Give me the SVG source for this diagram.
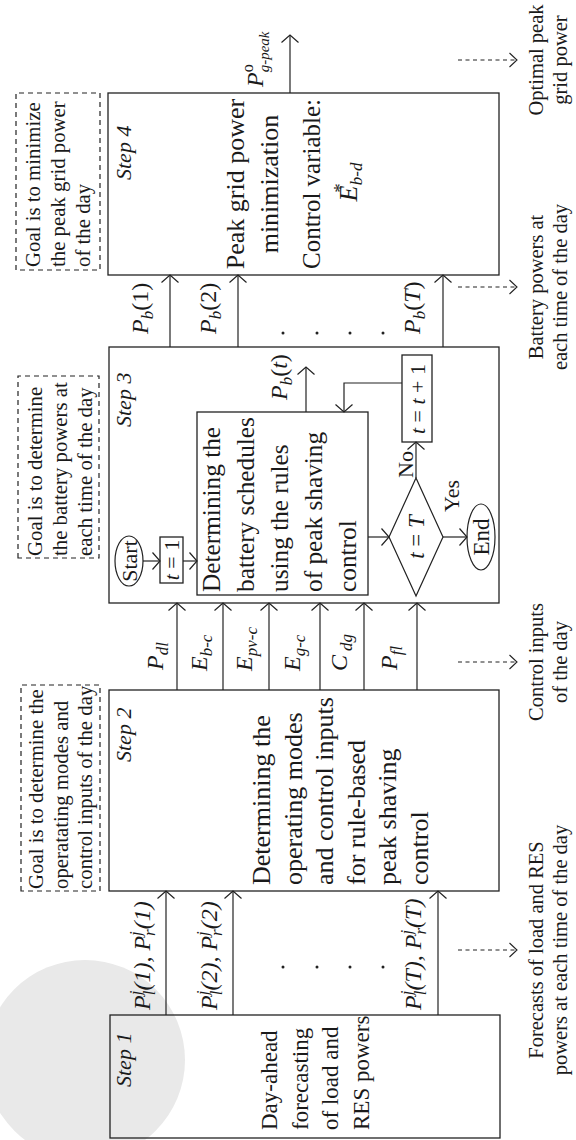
<svg xmlns="http://www.w3.org/2000/svg" width="576" height="1140" viewBox="0 0 576 1140">
<style>
text{font-family:"Liberation Serif","Times New Roman",serif;fill:#1a1a1a}
.i{font-style:italic}
.box{fill:none;stroke:#222;stroke-width:1.3}
.gbox{fill:none;stroke:#222;stroke-width:1.2;stroke-dasharray:5 4}
.c{fill:none;stroke:#222;stroke-width:1.2;marker-end:url(#ah)}
.d{fill:none;stroke:#222;stroke-width:1.1;stroke-dasharray:4 3.5;marker-end:url(#ah2)}
.s{font-size:22px;font-style:italic}
.m{font-size:26px}
.m3{font-size:25.3px}
.m1{font-size:23px}
.g{font-size:20.8px}
.lb{font-size:24px;font-style:italic}
.n{font-size:20.5px}
.sm{font-size:22px}
.sub{font-size:17px}
</style>
<defs>
<marker id="ah" markerUnits="userSpaceOnUse" markerWidth="9" markerHeight="19" viewBox="0 0 9 19" refX="8" refY="9.5" orient="auto"><path d="M0.5,1 L8,9.5 L0.5,18" fill="none" stroke="#222" stroke-width="1.2"/></marker>
<marker id="ah2" markerUnits="userSpaceOnUse" markerWidth="9" markerHeight="16" viewBox="0 0 9 16" refX="8" refY="8" orient="auto"><path d="M0.5,1 L8,8 L0.5,15" fill="none" stroke="#222" stroke-width="1.1"/></marker>
</defs>
<rect width="576" height="1140" fill="#fff"/>
<circle cx="85" cy="1060" r="100" fill="#e9e9e9"/>
<g transform="matrix(0,-1,1,0,0,1140)">

<g id="step1">
<rect class="box" x="2" y="110" width="123" height="390"/>
<text class="s" x="53" y="131">Step 1</text>
<text class="m1" x="10" y="277">Day-ahead</text>
<text class="m1" x="10" y="307.5">forecasting</text>
<text class="m1" x="10" y="338">of load and</text>
<text class="m1" x="10" y="368.5">RES powers</text>
</g>

<g id="goal1">
<rect class="gbox" x="249" y="21" width="206" height="79"/>
<text class="g" x="251" y="43">Goal is to determine the</text>
<text class="g" x="251" y="67.5">operatating modes and</text>
<text class="g" x="251" y="92">control inputs of the day</text>
</g>

<g id="step2">
<rect class="box" x="249" y="109" width="201" height="390"/>
<text class="s" x="378" y="131">Step 2</text>
<text class="m" x="255" y="270">Determining the</text>
<text class="m" x="255" y="301.5">operating modes</text>
<text class="m" x="255" y="333">and control inputs</text>
<text class="m" x="255" y="364.5">for rule-based</text>
<text class="m" x="255" y="396">peak shaving</text>
<text class="m" x="255" y="427.5">control</text>
</g>

<g id="goal2">
<rect class="gbox" x="582" y="18" width="182" height="81"/>
<text class="g" x="584" y="42">Goal is to determine</text>
<text class="g" x="584" y="67">the battery powers at</text>
<text class="g" x="584" y="92">each time of the day</text>
</g>

<g id="step3">
<rect class="box" x="537" y="109" width="256" height="390"/>
<text class="s" x="713" y="131">Step 3</text>
<ellipse cx="579" cy="129" rx="25" ry="14" fill="none" stroke="#222" stroke-width="1.2"/>
<text class="sm" x="579" y="136.5" text-anchor="middle">Start</text>
<rect class="box" x="557" y="160" width="46" height="23" stroke-width="1.1"/>
<text class="sm" x="580" y="178.5" text-anchor="middle"><tspan class="i">t</tspan> = 1</text>
<rect class="box" x="545" y="197" width="183" height="171"/>
<text class="m3" x="548" y="220">Determining the</text>
<text class="m3" x="548" y="254">battery schedules</text>
<text class="m3" x="548" y="288">using the rules</text>
<text class="m3" x="548" y="322">of peak shaving</text>
<text class="m3" x="548" y="356">control</text>
<polygon points="544,416 603,389 662,416 603,443" fill="none" stroke="#222" stroke-width="1.2"/>
<text x="603" y="424" text-anchor="middle" font-size="23"><tspan class="i">t</tspan> = <tspan class="i">T</tspan></text>
<rect class="box" x="698" y="402" width="87" height="30" stroke-width="1.1"/>
<text class="sm" x="741" y="424.5" text-anchor="middle"><tspan class="i">t</tspan> = <tspan class="i">t</tspan> + 1</text>
<ellipse cx="603" cy="481" rx="33" ry="14" fill="none" stroke="#222" stroke-width="1.2"/>
<text x="603" y="489" text-anchor="middle" font-size="23">End</text>
<text class="sm" x="662" y="413">No</text>
<text class="sm" x="628" y="459">Yes</text>
<text class="lb" x="740" y="287">P<tspan class="sub" dy="5">b</tspan><tspan dy="-5" font-style="normal">(</tspan>t<tspan font-style="normal">)</tspan></text>
</g>

<g id="goal3">
<rect class="gbox" x="870" y="16" width="177" height="84"/>
<text class="g" x="873" y="40">Goal is to minimize</text>
<text class="g" x="873" y="65">the peak grid power</text>
<text class="g" x="873" y="90">of the day</text>
</g>

<g id="step4">
<rect class="box" x="865" y="108" width="182" height="391"/>
<text class="s" x="960" y="131">Step 4</text>
<text class="m" x="956" y="244" text-anchor="middle">Peak grid power</text>
<text class="m" x="956" y="278" text-anchor="middle">minimization</text>
<text x="956" y="320" text-anchor="middle" font-size="25">Control variable:</text>
<text x="958" y="357" text-anchor="middle" font-size="26"><tspan class="i">E</tspan><tspan font-size="19" dx="-7" dy="-10">*</tspan><tspan class="i" font-size="17" dx="-2" dy="15">b-d</tspan></text>
</g>

<g id="labels">
<text class="lb" x="130" y="150">P<tspan class="sub" dy="-9">j</tspan><tspan class="sub" dx="-4.7" dy="14">l</tspan><tspan dy="-5">(1), P</tspan><tspan class="sub" dy="-9">j</tspan><tspan class="sub" dx="-4.7" dy="14">r</tspan><tspan dy="-5">(1)</tspan></text>
<text class="lb" x="130" y="217">P<tspan class="sub" dy="-9">j</tspan><tspan class="sub" dx="-4.7" dy="14">l</tspan><tspan dy="-5">(2), P</tspan><tspan class="sub" dy="-9">j</tspan><tspan class="sub" dx="-4.7" dy="14">r</tspan><tspan dy="-5">(2)</tspan></text>
<text class="lb" x="130" y="421">P<tspan class="sub" dy="-9">j</tspan><tspan class="sub" dx="-4.7" dy="14">l</tspan><tspan dy="-5">(T), P</tspan><tspan class="sub" dy="-9">j</tspan><tspan class="sub" dx="-4.7" dy="14">r</tspan><tspan dy="-5">(T)</tspan></text>
<circle cx="173" cy="283" r="1.5" fill="#222"/>
<circle cx="173" cy="317" r="1.5" fill="#222"/>
<circle cx="173" cy="350" r="1.5" fill="#222"/>
<circle cx="173" cy="383" r="1.5" fill="#222"/>
<text class="lb" x="470" y="163">P<tspan class="sub" dy="5">dl</tspan></text>
<text class="lb" x="469" y="207">E<tspan class="sub" dy="5">b-c</tspan></text>
<text class="lb" x="469" y="252">E<tspan class="sub" dy="5">pv-c</tspan></text>
<text class="lb" x="469" y="300">E<tspan class="sub" dy="5">g-c</tspan></text>
<text class="lb" x="469" y="347">C<tspan class="sub" dx="4" dy="5">dg</tspan></text>
<text class="lb" x="470" y="397">P<tspan class="sub" dy="5">fl</tspan></text>
<text class="lb" x="806" y="148">P<tspan class="sub" dy="5">b</tspan><tspan dy="-5" font-style="normal">(1)</tspan></text>
<text class="lb" x="806" y="216">P<tspan class="sub" dy="5">b</tspan><tspan dy="-5" font-style="normal">(2)</tspan></text>
<text class="lb" x="806" y="420">P<tspan class="sub" dy="5">b</tspan><tspan dy="-5" font-style="normal">(</tspan>T<tspan font-style="normal">)</tspan></text>
<circle cx="807" cy="283" r="1.5" fill="#222"/>
<circle cx="807" cy="317" r="1.5" fill="#222"/>
<circle cx="807" cy="350" r="1.5" fill="#222"/>
<circle cx="807" cy="383" r="1.5" fill="#222"/>
<text x="1053" y="263" font-size="24" class="i">P<tspan font-size="16" font-style="normal" dy="-10">o</tspan><tspan font-size="15" dx="-8" dy="16">g-peak</tspan></text>
<text class="n" x="1080" y="543" text-anchor="middle">Optimal peak</text>
<text class="n" x="1080" y="567" text-anchor="middle">grid power</text>
<text class="n" x="853" y="543" text-anchor="middle">Battery powers at</text>
<text class="n" x="853" y="567" text-anchor="middle">each time of the day</text>
<text class="n" x="478" y="543" text-anchor="middle">Control inputs</text>
<text class="n" x="478" y="567" text-anchor="middle">of the day</text>
<text class="n" x="190" y="543" text-anchor="middle">Forecasts of load and RES</text>
<text class="n" x="190" y="567" text-anchor="middle">powers at each time of the day</text>
</g>

<g id="connectors">
<line class="c" x1="125" y1="166" x2="249" y2="166"/>
<line class="c" x1="125" y1="233" x2="249" y2="233"/>
<line class="c" x1="125" y1="438" x2="249" y2="438"/>
<line class="c" x1="450" y1="177" x2="537" y2="177"/>
<line class="c" x1="450" y1="223" x2="537" y2="223"/>
<line class="c" x1="450" y1="269" x2="537" y2="269"/>
<line class="c" x1="450" y1="320" x2="537" y2="320"/>
<line class="c" x1="450" y1="364" x2="537" y2="364"/>
<line class="c" x1="450" y1="417" x2="537" y2="417"/>
<line class="c" x1="793" y1="170" x2="865" y2="170"/>
<line class="c" x1="793" y1="238" x2="865" y2="238"/>
<line class="c" x1="793" y1="443" x2="865" y2="443"/>
<line class="c" x1="1047" y1="290" x2="1105" y2="290"/>
<line class="c" x1="579" y1="143" x2="579" y2="160"/>
<line class="c" x1="579" y1="183" x2="579" y2="197"/>
<line class="c" x1="603" y1="368" x2="603" y2="389"/>
<line class="c" x1="662" y1="416" x2="698" y2="416"/>
<line class="c" x1="603" y1="443" x2="603" y2="467"/>
<polyline class="c" points="757,402 757,344 728,344"/>
<line class="c" x1="728" y1="306" x2="773" y2="306"/>
<line class="d" x1="1080" y1="458" x2="1080" y2="517"/>
<line class="d" x1="853" y1="458" x2="853" y2="517"/>
<line class="d" x1="478" y1="458" x2="478" y2="517"/>
<line class="d" x1="190" y1="458" x2="190" y2="517"/>
</g>
</g>
</svg>
